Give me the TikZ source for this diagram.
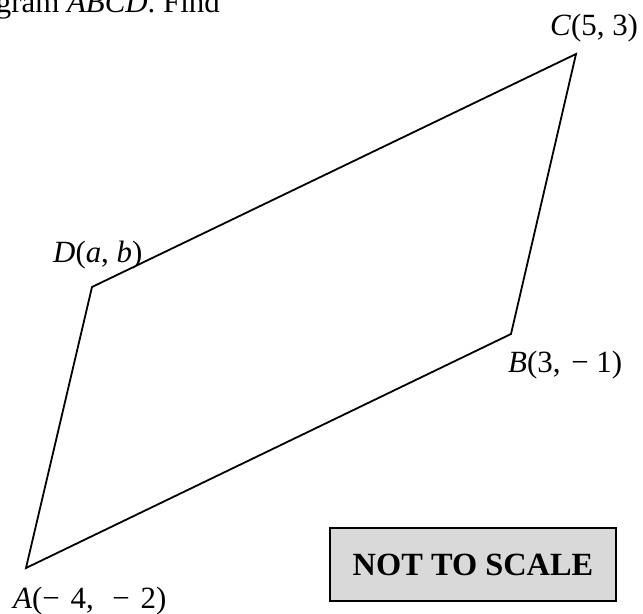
\documentclass[tikz,border=0pt]{standalone}
\usepackage{fontspec}
\setmainfont{Liberation Serif}
\begin{document}
\begin{tikzpicture}[x=1bp,y=-1bp,
  lbl/.style={inner sep=0pt,anchor=base west,font=\fontsize{31}{36}\selectfont},
  edge/.style={line width=1.8bp,line join=miter}]
\useasboundingbox (0,0) rectangle (643,614);
\clip (0,0) rectangle (643,614);
\coordinate (A) at (26,568);
\coordinate (B) at (511,334);
\coordinate (C) at (576,54);
\coordinate (D) at (92,287);
\draw[edge] (A) -- (B) -- (C) -- (D) -- cycle;
\node[lbl,anchor=base east] (q) at (220,12.5) {gram \textit{ABCD}. Find};
\node[lbl] (lc) at (550,36) {\textit{C}(5, 3)};
\node[lbl] (ld) at (53,262) {\textit{D}(\textit{a}, \textit{b})};
\node[lbl] (lb) at (508,372) {\textit{B}(3,\hspace{0.35em}−\hspace{0.25em}1)};
\node[lbl] (la) at (13,608) {\textit{A}(−\hspace{0.35em}4,\hspace{0.6em}−\hspace{0.35em}2)};
\node[draw,line width=1.8bp,fill={rgb,255:red,217;green,217;blue,217},minimum width=286bp,minimum height=73bp,inner sep=0pt,font=\fontsize{32.5}{38}\bfseries] (nts) at (473,564.5) {NOT TO SCALE};
\end{tikzpicture}
\end{document}
